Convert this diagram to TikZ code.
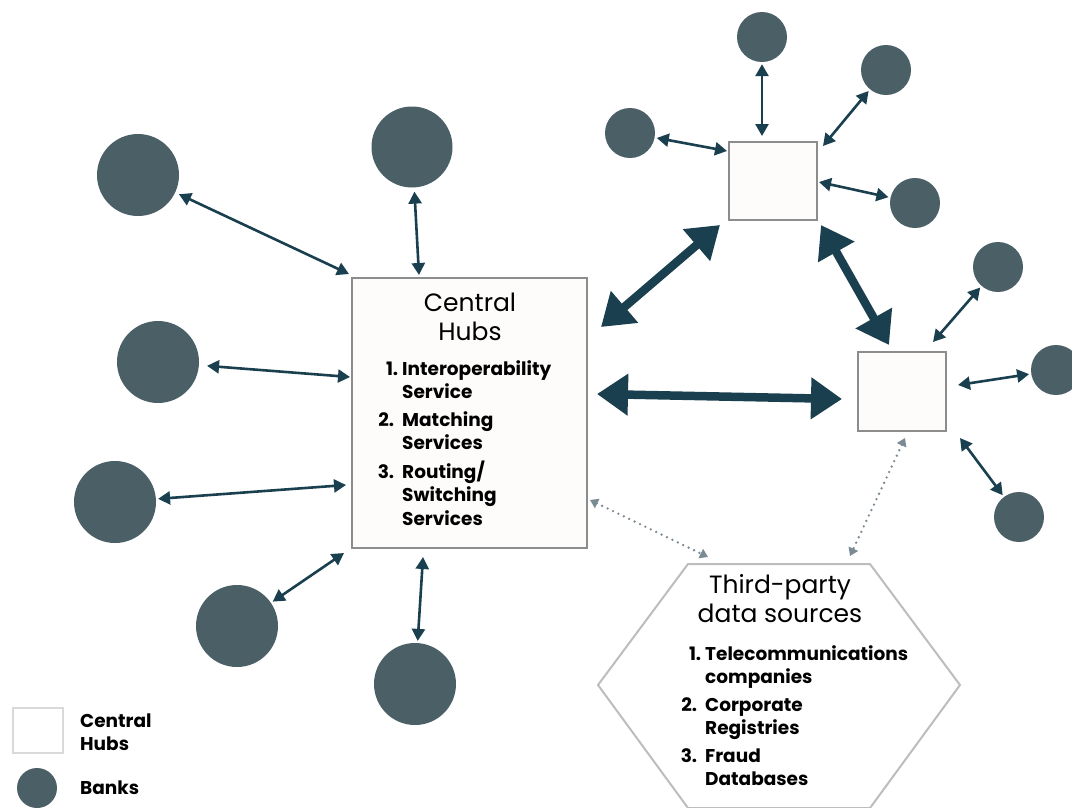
\documentclass[tikz,border=0pt]{standalone}
\usepackage{fontspec}
\setmainfont{Poppins}
\usetikzlibrary{arrows.meta}
\definecolor{bankc}{HTML}{4A5F66}
\definecolor{arrowc}{HTML}{1A3F4F}
\definecolor{hubgray}{HTML}{8C8C8C}
\definecolor{hubfill}{HTML}{FDFCFA}
\definecolor{hexgray}{HTML}{BDBDBD}
\definecolor{dotc}{HTML}{7B8B96}
\definecolor{legendgray}{HTML}{D9D9D9}
\begin{document}
\begin{tikzpicture}[x=1pt,y=-1pt,
  bank/.style={circle, fill=bankc, draw=none, inner sep=0, minimum size=#1},
  hubbox/.style={draw=hubgray, line width=2pt, fill=hubfill, inner sep=0, rectangle},
  thinarrow/.style={draw=arrowc, line width=2.6pt,
     {Triangle[length=12pt,width=13pt]}-{Triangle[length=12pt,width=13pt]}},
  thickarrow/.style={draw=arrowc, line width=8.5pt,
     {Triangle[length=31pt,width=40pt]}-{Triangle[length=31pt,width=40pt]}},
  dotarrow/.style={draw=dotc, line width=2.6pt, line cap=round, dash pattern=on 0pt off 6pt,
     {Triangle[length=8pt,width=10pt]}-{Triangle[length=8pt,width=10pt]}},
  titletext/.style={font=\fontsize{25}{29}\selectfont, align=center, inner sep=0},
  listtext/.style={font=\bfseries\fontsize{18.5}{23.5}\selectfont, inner sep=0, anchor=base west},
  legendtext/.style={font=\bfseries\fontsize{18.5}{23}\selectfont, inner sep=0, anchor=base west, align=left}
]
\useasboundingbox (0,0) rectangle (1072,807);
\fill[white] (0,0) rectangle (1072,807);

% hexagon (third-party data sources)
\begin{scope}
\clip (0,0) rectangle (1072,807);
\draw[hexgray, line width=2pt, fill=white] (598,685) -- (688,564) -- (870,564) -- (960,685) -- (870,808) -- (688,808) -- cycle;
\end{scope}
\coordinate (hex) at (779,685);

% hubs
\node[hubbox, minimum width=235pt, minimum height=270pt] (hub) at (469.5,412.5) {};
\node[hubbox, minimum width=88pt, minimum height=78pt] (hubA) at (773,181) {};
\node[hubbox, minimum width=88pt, minimum height=79pt] (hubB) at (902,391.5) {};

% left banks
\node[bank=82pt] (b1) at (138,175) {};
\node[bank=81pt] (b2) at (412,147) {};
\node[bank=82pt] (b3) at (158,362) {};
\node[bank=82pt] (b4) at (115,502) {};
\node[bank=82pt] (b5) at (237,626) {};
\node[bank=82pt] (b6) at (415,684) {};
% right banks
\node[bank=50pt] (a1) at (762,37) {};
\node[bank=50pt] (a2) at (886,70) {};
\node[bank=50pt] (a3) at (630,133) {};
\node[bank=50pt] (a4) at (915,203) {};
\node[bank=50pt] (c1) at (998,267) {};
\node[bank=50pt] (c2) at (1056,370) {};
\node[bank=50pt] (c3) at (1019,517) {};

% hub-side arrow ends
\coordinate (h1) at (349,274);
\coordinate (h2) at (419,275);
\coordinate (h3) at (350,377);
\coordinate (h4) at (346,485);
\coordinate (h5) at (344,553);
\coordinate (h6) at (423,557);
\coordinate (ha1) at (762,136);
\coordinate (ha2) at (823,146);
\coordinate (ha3) at (727,151);
\coordinate (ha4) at (819,182);
\coordinate (hb1) at (933,342);
\coordinate (hb2) at (958,385);
\coordinate (hb3) at (960,438);

\draw[thinarrow, shorten <=4pt] (b1) -- (h1);
\draw[thinarrow, shorten <=4pt] (b2) -- (h2);
\draw[thinarrow, shorten <=8pt] (b3) -- (h3);
\draw[thinarrow, shorten <=2pt] (b4) -- (h4);
\draw[thinarrow, shorten <=2pt] (b5) -- (h5);
\draw[thinarrow, shorten <=2pt] (b6) -- (h6);
\draw[thinarrow, shorten <=2pt] (a1) -- (ha1);
\draw[thinarrow, shorten <=2pt] (a2) -- (ha2);
\draw[thinarrow, shorten <=2pt] (a3) -- (ha3);
\draw[thinarrow, shorten <=2pt] (a4) -- (ha4);
\draw[thinarrow, shorten <=2pt] (c1) -- (hb1);
\draw[thinarrow, shorten <=2pt] (c2) -- (hb2);
\draw[thinarrow, shorten <=2pt] (c3) -- (hb3);

% thick arrows between hubs
\draw[thickarrow] ([shift={(13,-4)}]hub.east |- 0,331) -- ([shift={(-8,4)}]hubA.south west);
\draw[thickarrow] (597,394) -- (842,399);
\coordinate (tA) at (821,225);
\coordinate (tB) at (889,345);
\draw[thickarrow] (tA) -- (tB);

% dotted arrows
\coordinate (d1) at (590,500);
\coordinate (d2) at (708,557);
\coordinate (d3) at (905,438);
\coordinate (d4) at (850,556);
\draw[dotarrow] (d1) -- (d2);
\draw[dotarrow] (d3) -- (d4);

% central hub text
\node[titletext, anchor=base] (hubtitle) at (470,340) {Central\\Hubs};
\node[listtext] (hublist) at (402,375) {\begin{tabular}[t]{@{}l@{}}
\llap{1.\hspace{4pt}}Interoperability\\
Service\\[4pt]
\llap{2.\hspace{8pt}}Matching\\
Services\\[4pt]
\llap{3.\hspace{8pt}}Routing/\\
Switching\\
Services
\end{tabular}};

% hexagon text
\node[titletext, anchor=base] (hextitle) at (780,622) {Third-party\\data sources};
\node[listtext] (hexlist) at (705,660) {\begin{tabular}[t]{@{}l@{}}
\llap{1.\hspace{4pt}}Telecommunications\\
companies\\[4pt]
\llap{2.\hspace{8pt}}Corporate\\
Registries\\[4pt]
\llap{3.\hspace{8pt}}Fraud\\
Databases
\end{tabular}};

% legend
\node[draw=legendgray, line width=2pt, fill=white, minimum width=50pt, minimum height=45pt, inner sep=0] (leghub) at (37.5,730.5) {};
\node[legendtext] (leghubtext) at (80,750) {Central\\Hubs};
\node[bank=40pt] (legbank) at (37,788) {};
\node[legendtext] (legbanktext) at (80,794) {Banks};
\end{tikzpicture}
\end{document}
